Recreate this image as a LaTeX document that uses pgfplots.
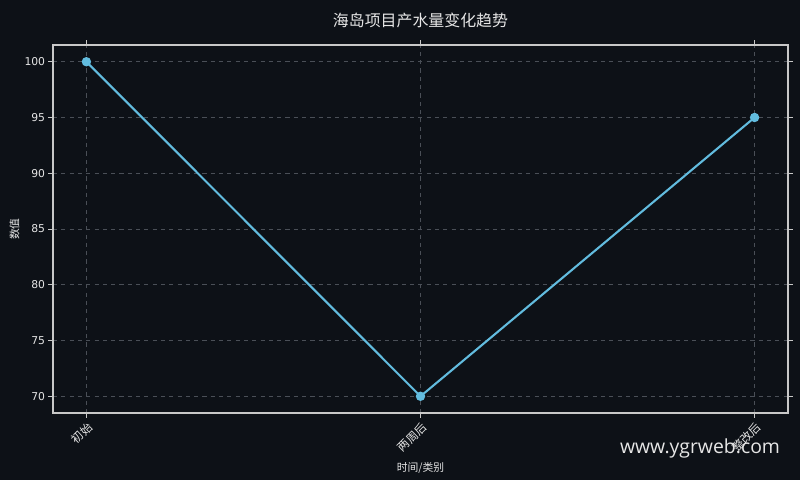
\documentclass[border=0pt]{standalone}
\usepackage{pgfplots}
\pgfplotsset{compat=1.18}
\usepackage{fontspec}
\setmainfont{DejaVu Sans}
\newfontfamily\cjk{Noto Sans CJK SC}
\newfontfamily\wm{Open Sans}

\definecolor{bg}{HTML}{0D1117}
\definecolor{fg}{HTML}{E6E6E6}
\definecolor{spine}{HTML}{C8C8C8}
\definecolor{gridc}{HTML}{4A4F57}
\definecolor{line}{HTML}{62BCDF}

\begin{document}
\begin{tikzpicture}
  % canvas: 0.01in = 1 px of the 800x480 reference
  \fill[bg] (0,0) rectangle (8in,4.8in);
  \useasboundingbox (0,0) rectangle (8in,4.8in);

  \begin{axis}[
      at={(0.53in,0.67in)}, anchor=south west,
      scale only axis,
      width=7.35in, height=3.68in,
      axis background/.style={fill=bg},
      axis line style={spine, line width=0.75pt},
      xmin=-0.1, xmax=2.1,
      ymin=68.5, ymax=101.5,
      xtick=data,
      xticklabels={初始, 两周后, 整改后},
      ytick={70,75,...,100},
      tick align=outside,
      major tick length=3.5pt,
      tick style={spine, line width=0.7pt},
      every tick label/.append style={font=\fontsize{7.8}{8}\selectfont, text=fg},
      xticklabel style={font=\cjk\fontsize{8.3}{9}\selectfont, rotate=45, anchor=north east, inner sep=1.5pt},
      yticklabel style={inner sep=2pt},
      /pgf/number format/assume math mode=true,
      xmajorgrids, ymajorgrids,
      major grid style={gridc, dashed, line width=0.5pt},
      xlabel={\cjk 时间/类别},
      ylabel={\cjk 数值},
      label style={font=\cjk\fontsize{7.8}{8}\selectfont, text=fg},
      xlabel style={yshift=-1pt},
      ylabel style={yshift=-2pt},
      title={\cjk 海岛项目产水量变化趋势},
      title style={font=\cjk\fontsize{11.5}{12}\selectfont, text=fg, yshift=3pt},
    ]
    \addplot[line, line width=1.5pt, mark=*, mark size=2.6pt, mark options={fill=line, draw=line}]
      coordinates {(0,100) (1,70) (2,95)};
  \end{axis}

  \node[text=fg, anchor=center] at (7.0in,0.32in)
    {\resizebox{1.6in}{!}{\wm www.ygrweb.com}};
\end{tikzpicture}
\end{document}
